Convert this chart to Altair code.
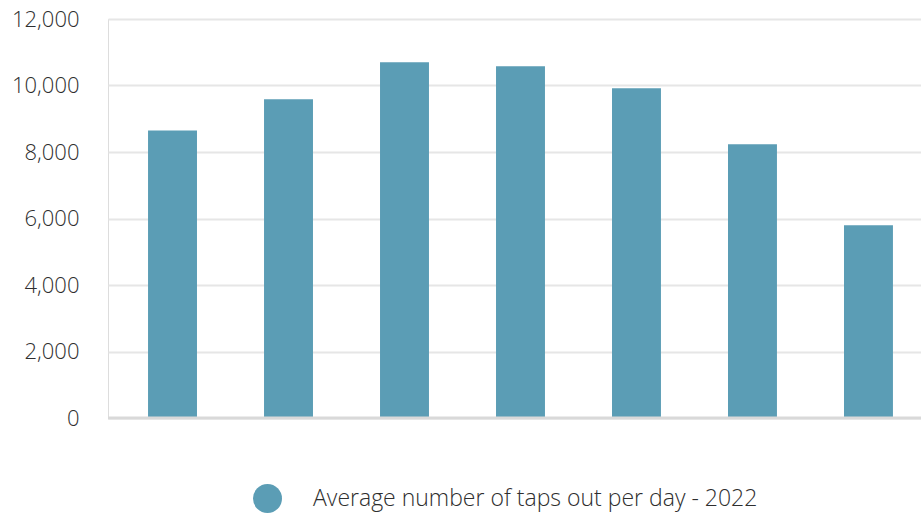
import altair as alt
import pandas as pd

days = ["Monday", "Tuesday", "Wednesday", "Thursday", "Friday", "Saturday", "Sunday"]
taps = [8650, 9590, 10700, 10580, 9920, 8230, 5800]
series_name = "Average number of taps out per day - 2022"

df = pd.DataFrame({"day": days, "taps": taps, "series": [series_name] * len(days)})

FONT = "Open Sans"
TEXT = "#2e2e2e"

bars = alt.Chart(df).mark_bar(color="#5b9db5").encode(
    x=alt.X("day:N", sort=days, axis=None,
            scale=alt.Scale(paddingInner=0.578, paddingOuter=0.2935, align=0.588)),
    y=alt.Y("taps:Q", scale=alt.Scale(domain=[0, 12000], nice=False),
            axis=alt.Axis(values=[0, 2000, 4000, 6000, 8000, 10000, 12000],
                          format=",.0f", title=None, domain=False, ticks=False,
                          labelPadding=29, labelFontSize=22, labelColor=TEXT,
                          labelFont=FONT, labelFontWeight=300,
                          gridColor="#e6e6e6", gridWidth=2)),
    color=alt.Color("series:N",
                    scale=alt.Scale(domain=[series_name], range=["#5b9db5"]),
                    legend=alt.Legend(title=None, orient="none", legendX=145, legendY=465,
                                      symbolType="circle", symbolSize=841,
                                      symbolStrokeWidth=0, labelFontSize=23,
                                      labelFont=FONT, labelFontWeight=300,
                                      labelColor=TEXT, labelOffset=31,
                                      labelLimit=700)),
)

base_rule = alt.Chart(pd.DataFrame({"y": [0]})).mark_rule(
    color="#d9d9d9", strokeWidth=3
).encode(y="y:Q")

chart = alt.layer(bars, base_rule).properties(
    width=813, height=399,
    autosize=alt.AutoSizeParams(type="none"),
    padding={"left": 108, "top": 19, "right": 0, "bottom": 97},
).configure_view(stroke=None).configure(background="white")

chart.save("out.html", embed_options={"renderer": "svg", "actions": False})
